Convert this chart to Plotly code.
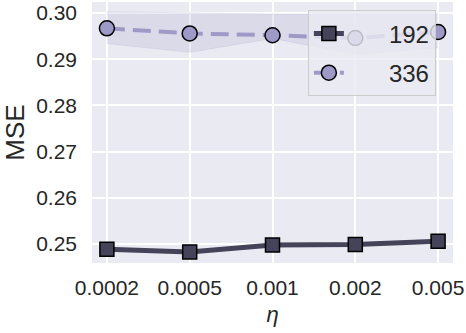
import plotly.graph_objects as go

# learning rates (categorical x)
etas = ["0.0002", "0.0005", "0.001", "0.002", "0.005"]

# MSE for horizon 192
mse_192 = [0.2489, 0.2483, 0.2498, 0.2499, 0.2506]
lo_192 = [0.2486, 0.2480, 0.2495, 0.2496, 0.2503]
hi_192 = [0.2492, 0.2486, 0.2501, 0.2502, 0.2509]

# MSE for horizon 336
mse_336 = [0.2967, 0.2956, 0.2952, 0.2946, 0.2959]
lo_336 = [0.2934, 0.2915, 0.2945, 0.2911, 0.2925]
hi_336 = [0.3003, 0.3000, 0.2998, 0.2998, 0.2998]

DARK = "#45435a"
PURPLE = "#9e9ac8"
PAD = "\u00a0" * 6  # push legend text right, like the longer mpl handles

fig = go.Figure()

# 192 band + line
fig.add_trace(go.Scatter(x=etas, y=hi_192, mode="lines", line=dict(width=0),
                         legendgroup="a", showlegend=False, hoverinfo="skip"))
fig.add_trace(go.Scatter(x=etas, y=lo_192, mode="lines", line=dict(width=0),
                         fill="tonexty", fillcolor="rgba(69,67,90,0.2)",
                         legendgroup="a", showlegend=False, hoverinfo="skip"))
fig.add_trace(go.Scatter(name=PAD + "192", x=etas, y=mse_192, mode="lines+markers",
                         legendgroup="a",
                         line=dict(color=DARK, width=5),
                         marker=dict(symbol="square", size=14, color=DARK,
                                     line=dict(color="black", width=1.5))))

# 336 band + line
fig.add_trace(go.Scatter(x=etas, y=hi_336, mode="lines",
                         line=dict(width=1, color="rgba(158,154,200,0.2)"),
                         legendgroup="b", showlegend=False, hoverinfo="skip"))
fig.add_trace(go.Scatter(x=etas, y=lo_336, mode="lines",
                         line=dict(width=1, color="rgba(158,154,200,0.2)"),
                         fill="tonexty", fillcolor="rgba(158,154,200,0.2)",
                         legendgroup="b", showlegend=False, hoverinfo="skip"))
fig.add_trace(go.Scatter(name=PAD + "336", x=etas, y=mse_336, mode="lines+markers",
                         legendgroup="b",
                         line=dict(color=PURPLE, width=4, dash="18px,8px"),
                         marker=dict(symbol="circle", size=15, color=PURPLE,
                                     line=dict(color="black", width=1.5))))

fig.update_layout(
    width=466, height=333,
    margin=dict(l=92, r=13, t=2, b=70),
    paper_bgcolor="white",
    plot_bgcolor="#eaeaf2",
    font=dict(family="Liberation Sans, Arial, sans-serif", size=21, color="#262626"),
    legend=dict(x=0.598, y=0.968, xanchor="left", yanchor="top",
                bgcolor="rgba(234,234,242,0.8)", bordercolor="#cccccc",
                borderwidth=1, font=dict(size=24), itemwidth=30,
                traceorder="grouped", tracegroupgap=5),
    showlegend=True,
)
fig.update_xaxes(type="category", range=[-0.18, 4.18], showgrid=True,
                 gridcolor="white", gridwidth=1.5, zeroline=False,
                 ticks="", ticklabelstandoff=10, automargin=False,
                 title=dict(text="<i>η</i>", font=dict(size=22), standoff=8))
fig.update_yaxes(range=[0.2459, 0.3024], tickvals=[0.25, 0.26, 0.27, 0.28, 0.29, 0.30],
                 tickformat=".2f", showgrid=True, gridcolor="white", gridwidth=1.5,
                 zeroline=False, ticks="", ticklabelstandoff=14, automargin=False,
                 title=dict(text="MSE", font=dict(size=26), standoff=8))

# the page body has a default 8px margin; drop it so the figure sits at 0,0
fig.write_html("out.html", config={"displayModeBar": False},
               post_script="document.body.style.margin='0';")
